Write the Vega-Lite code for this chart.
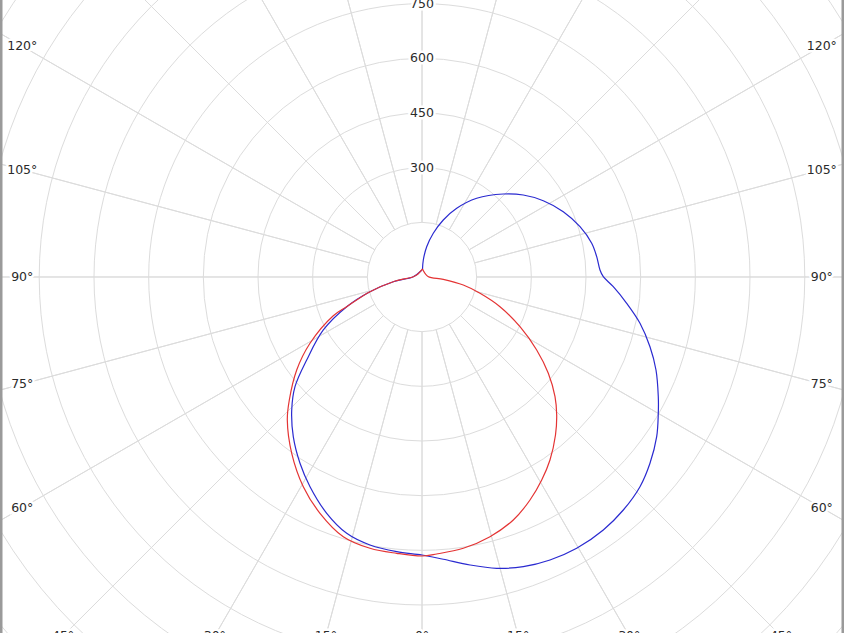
{
  "$schema": "https://vega.github.io/schema/vega-lite/v6.json",
  "width": 844,
  "height": 633,
  "padding": 0,
  "autosize": {"type": "none"},
  "background": "white",
  "config": {"view": {"stroke": null}},
  "datasets": {
    "circles": [{"r": 150}, {"r": 300}, {"r": 450}, {"r": 600}, {"r": 750}, {"r": 900}, {"r": 1050}, {"r": 1200}, {"r": 1350}, {"r": 1500}, {"r": 1650}],
    "spokes": [{"a": 0}, {"a": 15}, {"a": 30}, {"a": 45}, {"a": 60}, {"a": 75}, {"a": 90}, {"a": 105}, {"a": 120}, {"a": 135}, {"a": 150}, {"a": 165}, {"a": 180}, {"a": 195}, {"a": 210}, {"a": 225}, {"a": 240}, {"a": 255}, {"a": 270}, {"a": 285}, {"a": 300}, {"a": 315}, {"a": 330}, {"a": 345}],
    "curves": [
      {"plane": "C90 - C270", "i": 1, "x": 0, "y": 19.2},
      {"plane": "C90 - C270", "i": 2, "x": -23.9, "y": 0.8},
      {"plane": "C90 - C270", "i": 3, "x": -78.8, "y": -12.9},
      {"plane": "C90 - C270", "i": 4, "x": -142.7, "y": -40.3},
      {"plane": "C90 - C270", "i": 5, "x": -206.6, "y": -81.5},
      {"plane": "C90 - C270", "i": 6, "x": -270.8, "y": -145.4},
      {"plane": "C90 - C270", "i": 7, "x": -316.4, "y": -227.8},
      {"plane": "C90 - C270", "i": 8, "x": -348.5, "y": -301.0},
      {"plane": "C90 - C270", "i": 9, "x": -357.5, "y": -365.0},
      {"plane": "C90 - C270", "i": 10, "x": -353.2, "y": -438.2},
      {"plane": "C90 - C270", "i": 11, "x": -334.8, "y": -511.2},
      {"plane": "C90 - C270", "i": 12, "x": -307.3, "y": -575.4},
      {"plane": "C90 - C270", "i": 13, "x": -261.5, "y": -648.4},
      {"plane": "C90 - C270", "i": 14, "x": -206.6, "y": -703.3},
      {"plane": "C90 - C270", "i": 15, "x": -142.7, "y": -735.4},
      {"plane": "C90 - C270", "i": 16, "x": -69.4, "y": -753.8},
      {"plane": "C90 - C270", "i": 17, "x": 0, "y": -762.8},
      {"plane": "C90 - C270", "i": 18, "x": 58.4, "y": -774.6},
      {"plane": "C90 - C270", "i": 19, "x": 131.7, "y": -790.3},
      {"plane": "C90 - C270", "i": 20, "x": 205.0, "y": -799.3},
      {"plane": "C90 - C270", "i": 21, "x": 278.0, "y": -794.9},
      {"plane": "C90 - C270", "i": 22, "x": 351.2, "y": -776.6},
      {"plane": "C90 - C270", "i": 23, "x": 424.5, "y": -744.4},
      {"plane": "C90 - C270", "i": 24, "x": 497.5, "y": -694.2},
      {"plane": "C90 - C270", "i": 25, "x": 552.4, "y": -639.4},
      {"plane": "C90 - C270", "i": 26, "x": 598.2, "y": -575.4},
      {"plane": "C90 - C270", "i": 27, "x": 625.6, "y": -511.2},
      {"plane": "C90 - C270", "i": 28, "x": 644.0, "y": -438.2},
      {"plane": "C90 - C270", "i": 29, "x": 648.4, "y": -374.0},
      {"plane": "C90 - C270", "i": 30, "x": 648.4, "y": -328.5},
      {"plane": "C90 - C270", "i": 31, "x": 642.1, "y": -255.2},
      {"plane": "C90 - C270", "i": 32, "x": 625.6, "y": -191.3},
      {"plane": "C90 - C270", "i": 33, "x": 598.2, "y": -127.0},
      {"plane": "C90 - C270", "i": 34, "x": 561.7, "y": -72.2},
      {"plane": "C90 - C270", "i": 35, "x": 524.9, "y": -26.6},
      {"plane": "C90 - C270", "i": 36, "x": 497.5, "y": 0.8},
      {"plane": "C90 - C270", "i": 37, "x": 488.4, "y": 19.2},
      {"plane": "C90 - C270", "i": 38, "x": 479.4, "y": 55.7},
      {"plane": "C90 - C270", "i": 39, "x": 465.7, "y": 92.5},
      {"plane": "C90 - C270", "i": 40, "x": 433.6, "y": 138.0},
      {"plane": "C90 - C270", "i": 41, "x": 387.7, "y": 179.2},
      {"plane": "C90 - C270", "i": 42, "x": 332.8, "y": 209.4},
      {"plane": "C90 - C270", "i": 43, "x": 278.0, "y": 225.0},
      {"plane": "C90 - C270", "i": 44, "x": 223.1, "y": 227.8},
      {"plane": "C90 - C270", "i": 45, "x": 150.1, "y": 216.0},
      {"plane": "C90 - C270", "i": 46, "x": 95.2, "y": 188.5},
      {"plane": "C90 - C270", "i": 47, "x": 58.4, "y": 156.4},
      {"plane": "C90 - C270", "i": 48, "x": 31.0, "y": 119.9},
      {"plane": "C90 - C270", "i": 49, "x": 12.9, "y": 83.1},
      {"plane": "C90 - C270", "i": 50, "x": 3.6, "y": 46.6},
      {"plane": "C90 - C270", "i": 51, "x": 1.4, "y": 22.0},
      {"plane": "C0 - C180", "i": 1, "x": 1.4, "y": 22.0},
      {"plane": "C0 - C180", "i": 2, "x": 16.5, "y": 1.4},
      {"plane": "C0 - C180", "i": 3, "x": 58.4, "y": -6.3},
      {"plane": "C0 - C180", "i": 4, "x": 113.3, "y": -22.0},
      {"plane": "C0 - C180", "i": 5, "x": 159.2, "y": -44.7},
      {"plane": "C0 - C180", "i": 6, "x": 214.0, "y": -81.5},
      {"plane": "C0 - C180", "i": 7, "x": 268.9, "y": -136.4},
      {"plane": "C0 - C180", "i": 8, "x": 314.7, "y": -200.3},
      {"plane": "C0 - C180", "i": 9, "x": 346.6, "y": -264.2},
      {"plane": "C0 - C180", "i": 10, "x": 365.0, "y": -328.5},
      {"plane": "C0 - C180", "i": 11, "x": 369.6, "y": -378.7},
      {"plane": "C0 - C180", "i": 12, "x": 366.3, "y": -433.6},
      {"plane": "C0 - C180", "i": 13, "x": 351.2, "y": -502.2},
      {"plane": "C0 - C180", "i": 14, "x": 328.5, "y": -557.0},
      {"plane": "C0 - C180", "i": 15, "x": 296.4, "y": -611.9},
      {"plane": "C0 - C180", "i": 16, "x": 250.5, "y": -666.8},
      {"plane": "C0 - C180", "i": 17, "x": 186.6, "y": -712.6},
      {"plane": "C0 - C180", "i": 18, "x": 113.3, "y": -744.4},
      {"plane": "C0 - C180", "i": 19, "x": 40.3, "y": -760.1},
      {"plane": "C0 - C180", "i": 20, "x": 0, "y": -765.6},
      {"plane": "C0 - C180", "i": 21, "x": -69.4, "y": -758.2},
      {"plane": "C0 - C180", "i": 22, "x": -142.7, "y": -744.4},
      {"plane": "C0 - C180", "i": 23, "x": -216.0, "y": -712.6},
      {"plane": "C0 - C180", "i": 24, "x": -279.9, "y": -648.4},
      {"plane": "C0 - C180", "i": 25, "x": -325.7, "y": -575.4},
      {"plane": "C0 - C180", "i": 26, "x": -357.5, "y": -483.8},
      {"plane": "C0 - C180", "i": 27, "x": -369.6, "y": -392.4},
      {"plane": "C0 - C180", "i": 28, "x": -364.1, "y": -337.5},
      {"plane": "C0 - C180", "i": 29, "x": -343.8, "y": -255.2},
      {"plane": "C0 - C180", "i": 30, "x": -307.3, "y": -181.9},
      {"plane": "C0 - C180", "i": 31, "x": -244.2, "y": -107.0},
      {"plane": "C0 - C180", "i": 32, "x": -206.6, "y": -81.5},
      {"plane": "C0 - C180", "i": 33, "x": -142.7, "y": -40.3},
      {"plane": "C0 - C180", "i": 34, "x": -78.8, "y": -12.9},
      {"plane": "C0 - C180", "i": 35, "x": -23.9, "y": 0.8},
      {"plane": "C0 - C180", "i": 36, "x": -11.0, "y": 8.2},
      {"plane": "C0 - C180", "i": 37, "x": 1.4, "y": 22.0}
    ],
    "labels": [
      {"t": "300", "x": 0, "y": 300},
      {"t": "450", "x": 0, "y": 450},
      {"t": "600", "x": 0, "y": 600},
      {"t": "750", "x": 0, "y": 750},
      {"t": "120°", "x": -1097, "y": 633.3},
      {"t": "105°", "x": -1097, "y": 294.0},
      {"t": "90°", "x": -1097, "y": 0},
      {"t": "75°", "x": -1097, "y": -294.0},
      {"t": "60°", "x": -1097, "y": -633.3},
      {"t": "120°", "x": 1097, "y": 633.3},
      {"t": "105°", "x": 1097, "y": 294.0},
      {"t": "90°", "x": 1097, "y": 0},
      {"t": "75°", "x": 1097, "y": -294.0},
      {"t": "60°", "x": 1097, "y": -633.3},
      {"t": "45°", "x": -985, "y": -985},
      {"t": "30°", "x": -568.7, "y": -985},
      {"t": "15°", "x": -263.9, "y": -985},
      {"t": "0°", "x": 0, "y": -985},
      {"t": "15°", "x": 263.9, "y": -985},
      {"t": "30°", "x": 568.7, "y": -985},
      {"t": "45°", "x": 985, "y": -985}
    ]
  },
  "encoding": {
    "x": {"type": "quantitative", "axis": null, "scale": {"domain": [-1158, 1158], "nice": false, "zero": false}},
    "y": {"type": "quantitative", "axis": null, "scale": {"domain": [-976.9, 760.1], "nice": false, "zero": false}}
  },
  "layer": [
    {
      "data": {"name": "spokes"},
      "mark": {"type": "arc", "filled": false, "stroke": "#dcdcdc", "strokeWidth": 1},
      "encoding": {
        "x": {"datum": 0},
        "y": {"datum": 0},
        "theta": {"field": "a", "type": "quantitative", "stack": false, "scale": {"type": "linear", "domain": [0, 360], "range": [0, 6.283185307]}},
        "theta2": {"field": "a"},
        "radius": {"datum": 150, "type": "quantitative", "stack": false, "scale": {"type": "linear", "zero": true, "domain": [0, 1500], "range": [0, 546.65]}},
        "radius2": {"datum": 1700}
      }
    },
    {
      "data": {"name": "circles"},
      "mark": {"type": "arc", "filled": false, "stroke": "#dcdcdc", "strokeWidth": 1, "theta": 0, "theta2": 6.29},
      "encoding": {
        "x": {"datum": 0},
        "y": {"datum": 0},
        "radius": {"field": "r", "type": "quantitative", "stack": false}
      }
    },
    {
      "data": {"name": "curves"},
      "mark": {"type": "line", "strokeWidth": 1.2, "interpolate": "catmull-rom"},
      "encoding": {
        "x": {"field": "x"},
        "y": {"field": "y"},
        "order": {"field": "i", "type": "quantitative"},
        "color": {"field": "plane", "type": "nominal", "legend": null, "sort": ["C90 - C270", "C0 - C180"], "scale": {"domain": ["C90 - C270", "C0 - C180"], "range": ["#2a2ad0", "#e43434"]}}
      }
    },
    {
      "data": {"name": "labels"},
      "mark": {"type": "text", "font": "DejaVu Sans", "fontSize": 12.5, "stroke": "white", "strokeWidth": 5, "fill": "white", "align": "center", "baseline": "middle"},
      "encoding": {"x": {"field": "x"}, "y": {"field": "y"}, "text": {"field": "t"}}
    },
    {
      "data": {"name": "labels"},
      "mark": {"type": "text", "font": "DejaVu Sans", "fontSize": 12.5, "fill": "#2b2b2b", "align": "center", "baseline": "middle"},
      "encoding": {"x": {"field": "x"}, "y": {"field": "y"}, "text": {"field": "t"}}
    },
    {
      "data": {"values": [{"e": -1158}, {"e": 1158}]},
      "mark": {"type": "rule", "stroke": "#9a9a9a", "strokeWidth": 5},
      "encoding": {"x": {"field": "e"}}
    }
  ]
}
